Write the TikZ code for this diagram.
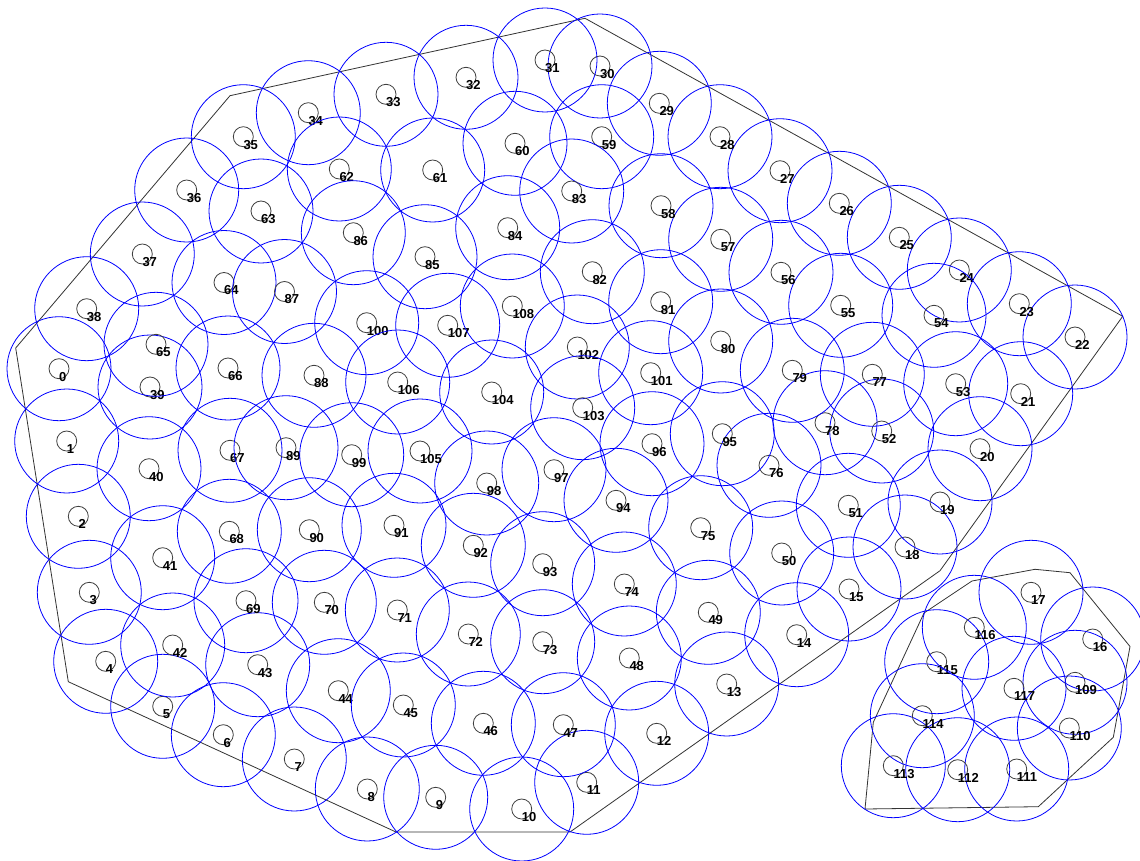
\documentclass[tikz,border=0pt]{standalone}
\usepackage{fontspec}
\setmainfont{Liberation Sans}
\begin{document}
\begin{tikzpicture}[x=1pt,y=-1pt,
  smallc/.style={circle,draw=black!75,line width=0.8pt,minimum size=20pt,inner sep=0pt},
  bluec/.style={draw=blue,line width=0.8pt},
  lab/.style={anchor=west,inner sep=0pt,font=\bfseries\fontsize{13}{13}\selectfont},
  poly/.style={draw=black!80,line width=0.8pt}]
\useasboundingbox[fill=white] (0,0) rectangle (1140,861);
% polygons
\draw[poly] (230,95.7) -- (577,20) -- (585,18.3) -- (1122.7,316.3) -- (940,570.7) -- (570,832) -- (396,832) -- (68.3,681.7) -- (15.7,348) -- cycle;
\draw[poly] (865,809) -- (873.3,722.3) -- (924,613) -- (972,581) -- (1035,569.3) -- (1070,572.7) -- (1130,646.5) -- (1113.3,737.3) -- (1038.3,806.7) -- cycle;
\foreach \n/\x/\y in {
0/59/368.7, 1/66.7/441, 2/78.3/516.3, 3/89.3/592.3, 4/105.7/661.3, 5/162.7/706.3, 6/223.3/734.7, 7/294.3/759, 8/367.3/789, 9/435.7/797.3,
10/521.7/809, 11/586.7/782.3, 12/656.7/733.3, 13/726.7/684, 14/796.7/634.7, 15/849/589, 16/1092.7/639, 17/1031/592.3, 18/905/547, 19/940/502,
20/980/448.7, 21/1020.7/393.7, 22/1075/337, 23/1019.3/303.7, 24/959.3/270, 25/899.3/237.3, 26/839.3/203.3, 27/780/170.7, 28/720/136.7, 29/659.3/103.3,
30/600/66, 31/545/60, 32/466/77.3, 33/386/94.3, 34/308.3/112.7, 35/243.3/136.7, 36/186.7/190, 37/142.3/254, 38/86.7/308.7, 39/150/387,
40/149/468.7, 41/162.7/557.7, 42/172.7/645, 43/257.7/664.7, 44/338.3/690.7, 45/403.3/705, 46/483.3/723.3, 47/563.3/724.7, 48/629.3/658, 49/708.3/612.3,
50/781.7/553, 51/848.3/505.3, 52/881.7/431, 53/955.7/383.7, 54/934/315.3, 55/840.7/305.3, 56/781/272.3, 57/720.7/239.3, 58/661/205.7, 59/601.7/136.7,
60/515/143.3, 61/432.7/170, 62/339.3/169, 63/261/211, 64/224/282.5, 65/156/344.3, 66/228/368, 67/230/450.3, 68/229.3/531.3, 69/246/600.7,
70/324.3/602.3, 71/397.3/610, 72/468.3/634, 73/542.7/641.7, 74/624.3/584, 75/700.7/527.7, 76/769/465.3, 77/872.3/374.3, 78/825/422.7, 79/792.3/370.3,
80/720.7/341, 81/660.7/301.7, 82/592.3/271.7, 83/571.7/191, 84/507.7/227.7, 85/425/256.7, 86/353.3/232.7, 87/284.5/291.5, 88/314/375.3, 89/286/447.7,
90/309.3/529.7, 91/394/525.3, 92/473.3/545.3, 93/542.7/563.7, 94/616/500.3, 95/722.3/433.7, 96/652/443.7, 97/554/469.7, 98/486.7/483, 99/351.7/454.7,
100/366.7/322.7, 101/650.7/372.7, 102/577.3/347, 103/582.7/407.7, 104/491.7/392, 105/420/451, 106/397.7/382, 107/447.7/325.3, 108/512.3/306, 109/1075/682.3,
110/1069.3/728, 111/1016.7/769, 112/957.7/769.7, 113/893.3/765.7, 114/922.3/715.7, 115/936.7/661.7, 116/974.3/627.3, 117/1014/688.3}
{
  \node[smallc] (p\n) at (\x,\y) {};
  \draw[bluec] (p\n.center) circle[radius=52pt];
  \node[lab] (l\n) at (\x,{\y+8}) {\n};
}
\end{tikzpicture}
\end{document}
